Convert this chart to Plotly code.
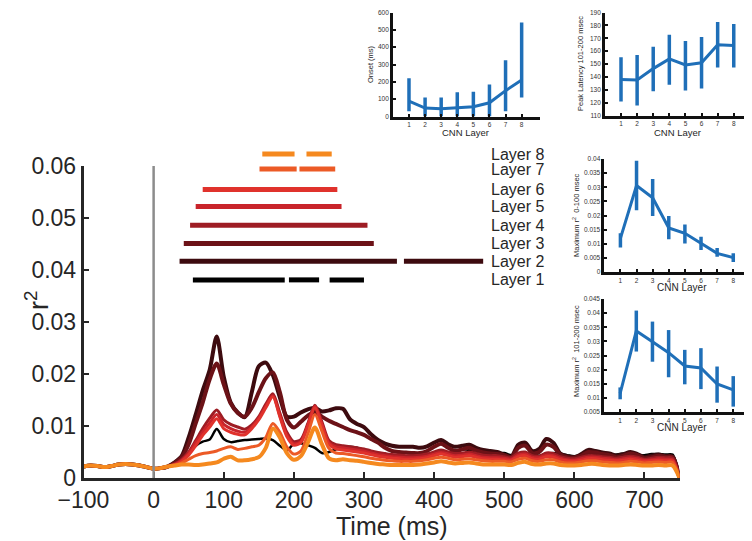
import plotly.graph_objects as go

# the page body has an 8px default margin: the figure is sized to fit the window
OFF = 8
FW, FH = 744, 533
FONT = "Liberation Sans, Arial, sans-serif"
INK = "#262626"
BLUE = "#1f6fb8"

# ---------------- main time series data ----------------
time_ms = [-100, -90, -80, -70, -60, -50, -40, -30, -20, -10, 0, 10, 20,
           30, 40, 50, 60, 70, 80, 90, 100, 110, 120, 130, 140, 150, 160, 170, 180, 190,
           200, 210, 220, 230, 240, 250, 260, 270, 280, 290, 300, 310, 320, 330, 340, 350,
           360, 370, 380, 390, 400, 410, 420, 430, 440, 450, 460, 470, 480, 490, 500, 510,
           520, 530, 540, 550, 560, 570, 580, 590, 600, 610, 620, 630, 640, 650, 660, 670,
           680, 690, 700, 710, 720, 730, 740, 750]

baseline = [0.0022, 0.0024, 0.0023, 0.0021, 0.0023, 0.0026, 0.0027, 0.0026, 0.0024,
            0.0021, 0.0018, 0.0019, 0.0022]

layer1 = baseline + [0.0027, 0.0036, 0.0048, 0.0062, 0.0070, 0.0074, 0.0094, 0.0075, 0.0069, 0.0071,
    0.0073, 0.0074, 0.0075, 0.0076, 0.0073, 0.0062, 0.0053, 0.0066, 0.0067, 0.0063, 0.0058,
    0.0048, 0.0050, 0.0055, 0.0058, 0.0060, 0.0058, 0.0054, 0.0051, 0.0048, 0.0046, 0.0044,
    0.0043, 0.0042, 0.0043, 0.0044, 0.0046, 0.0048, 0.0050, 0.0048, 0.0052, 0.0055, 0.0054,
    0.0050, 0.0048, 0.0046, 0.0047, 0.0048, 0.0044, 0.0046, 0.0048, 0.0045, 0.0043, 0.0046,
    0.0048, 0.0046, 0.0044, 0.0042, 0.0045, 0.0047, 0.0046, 0.0044, 0.0043, 0.0045, 0.0047,
    0.0045, 0.0043, 0.0044, 0.0046, 0.0046, 0.0045, 0.0045, 0.0]

layer2 = baseline + [0.0030, 0.0042, 0.0078, 0.0122, 0.0168, 0.0208, 0.0272, 0.0195, 0.0145, 0.0126,
    0.0117, 0.0165, 0.0215, 0.0222, 0.0198, 0.0155, 0.0118, 0.0118, 0.0126, 0.0132, 0.0135,
    0.0128, 0.0130, 0.0134, 0.0133, 0.0113, 0.0104, 0.0098, 0.0084, 0.0073, 0.0066, 0.0062,
    0.0060, 0.0060, 0.0060, 0.0058, 0.0061, 0.0068, 0.0073, 0.0065, 0.0060, 0.0062, 0.0064,
    0.0058, 0.0054, 0.0052, 0.0050, 0.0045, 0.0041, 0.0064, 0.0068, 0.0052, 0.0056, 0.0075,
    0.0068, 0.0047, 0.0042, 0.0040, 0.0046, 0.0054, 0.0052, 0.0049, 0.0047, 0.0043, 0.0046,
    0.0050, 0.0046, 0.0040, 0.0043, 0.0045, 0.0042, 0.0041, 0.0]

layer3 = baseline + [0.0029, 0.0040, 0.0065, 0.0105, 0.0145, 0.0190, 0.0220, 0.0180, 0.0143, 0.0125,
    0.0118, 0.0135, 0.0165, 0.0192, 0.0203, 0.0165, 0.0112, 0.0097, 0.0108, 0.0120, 0.0127,
    0.0118, 0.0110, 0.0104, 0.0098, 0.0092, 0.0088, 0.0083, 0.0075, 0.0068, 0.0058, 0.0052,
    0.0050, 0.0049, 0.0048, 0.0048, 0.0052, 0.0060, 0.0066, 0.0058, 0.0052, 0.0055, 0.0058,
    0.0053, 0.0049, 0.0047, 0.0046, 0.0044, 0.0040, 0.0058, 0.0062, 0.0048, 0.0050, 0.0064,
    0.0060, 0.0045, 0.0040, 0.0039, 0.0043, 0.0050, 0.0049, 0.0046, 0.0044, 0.0040, 0.0043,
    0.0047, 0.0044, 0.0038, 0.0040, 0.0043, 0.0041, 0.0040, 0.0]

layer4 = baseline + [0.0027, 0.0036, 0.0050, 0.0072, 0.0095, 0.0115, 0.0131, 0.0112, 0.0103, 0.0098,
    0.0094, 0.0102, 0.0118, 0.0142, 0.0162, 0.0125, 0.0088, 0.0070, 0.0074, 0.0105, 0.0140,
    0.0108, 0.0072, 0.0064, 0.0062, 0.0060, 0.0058, 0.0056, 0.0052, 0.0049, 0.0047, 0.0045,
    0.0044, 0.0043, 0.0043, 0.0044, 0.0046, 0.0050, 0.0054, 0.0050, 0.0047, 0.0048, 0.0050,
    0.0047, 0.0044, 0.0043, 0.0043, 0.0041, 0.0039, 0.0048, 0.0050, 0.0043, 0.0042, 0.0048,
    0.0047, 0.0041, 0.0038, 0.0037, 0.0040, 0.0043, 0.0043, 0.0041, 0.0040, 0.0038, 0.0040,
    0.0042, 0.0040, 0.0036, 0.0038, 0.0040, 0.0039, 0.0038, 0.0]

layer5 = baseline + [0.0026, 0.0034, 0.0047, 0.0068, 0.0088, 0.0106, 0.0122, 0.0103, 0.0095, 0.0090,
    0.0088, 0.0098, 0.0115, 0.0138, 0.0158, 0.0120, 0.0083, 0.0066, 0.0070, 0.0102, 0.0138,
    0.0104, 0.0068, 0.0060, 0.0058, 0.0056, 0.0054, 0.0052, 0.0048, 0.0045, 0.0043, 0.0041,
    0.0040, 0.0039, 0.0039, 0.0040, 0.0042, 0.0046, 0.0049, 0.0046, 0.0043, 0.0044, 0.0046,
    0.0043, 0.0040, 0.0039, 0.0039, 0.0038, 0.0036, 0.0044, 0.0046, 0.0040, 0.0039, 0.0044,
    0.0043, 0.0038, 0.0035, 0.0034, 0.0037, 0.0040, 0.0040, 0.0038, 0.0037, 0.0035, 0.0037,
    0.0039, 0.0037, 0.0034, 0.0035, 0.0037, 0.0036, 0.0035, 0.0]

layer6 = baseline + [0.0025, 0.0032, 0.0044, 0.0062, 0.0082, 0.0098, 0.0114, 0.0095, 0.0088, 0.0084,
    0.0083, 0.0095, 0.0112, 0.0135, 0.0156, 0.0118, 0.0080, 0.0063, 0.0068, 0.0100, 0.0135,
    0.0101, 0.0065, 0.0056, 0.0054, 0.0052, 0.0050, 0.0048, 0.0045, 0.0042, 0.0040, 0.0038,
    0.0037, 0.0036, 0.0036, 0.0037, 0.0039, 0.0043, 0.0046, 0.0043, 0.0040, 0.0041, 0.0043,
    0.0040, 0.0037, 0.0036, 0.0036, 0.0035, 0.0034, 0.0041, 0.0043, 0.0037, 0.0036, 0.0041,
    0.0040, 0.0035, 0.0033, 0.0032, 0.0034, 0.0037, 0.0037, 0.0035, 0.0034, 0.0033, 0.0034,
    0.0036, 0.0034, 0.0032, 0.0033, 0.0034, 0.0033, 0.0033, 0.0]

layer7 = baseline + [0.0024, 0.0029, 0.0036, 0.0043, 0.0047, 0.0049, 0.0052, 0.0057, 0.0060, 0.0055,
    0.0057, 0.0060, 0.0063, 0.0078, 0.0105, 0.0088, 0.0060, 0.0046, 0.0052, 0.0085, 0.0122,
    0.0090, 0.0057, 0.0048, 0.0047, 0.0045, 0.0043, 0.0041, 0.0038, 0.0036, 0.0034, 0.0033,
    0.0032, 0.0032, 0.0032, 0.0033, 0.0035, 0.0038, 0.0040, 0.0038, 0.0035, 0.0036, 0.0037,
    0.0035, 0.0033, 0.0032, 0.0032, 0.0032, 0.0031, 0.0036, 0.0038, 0.0033, 0.0032, 0.0035,
    0.0035, 0.0031, 0.0029, 0.0029, 0.0031, 0.0033, 0.0033, 0.0031, 0.0030, 0.0029, 0.0030,
    0.0032, 0.0031, 0.0029, 0.0030, 0.0031, 0.0030, 0.0030, 0.0]

layer8 = baseline + [0.0024, 0.0026, 0.0026, 0.0025, 0.0026, 0.0028, 0.0030, 0.0037, 0.0041, 0.0034,
    0.0034, 0.0036, 0.0040, 0.0058, 0.0095, 0.0078, 0.0048, 0.0035, 0.0042, 0.0068, 0.0097,
    0.0065, 0.0038, 0.0034, 0.0036, 0.0034, 0.0033, 0.0031, 0.0029, 0.0027, 0.0026, 0.0025,
    0.0025, 0.0025, 0.0025, 0.0026, 0.0028, 0.0030, 0.0032, 0.0030, 0.0028, 0.0029, 0.0030,
    0.0028, 0.0026, 0.0026, 0.0026, 0.0026, 0.0025, 0.0029, 0.0031, 0.0027, 0.0026, 0.0028,
    0.0028, 0.0025, 0.0024, 0.0024, 0.0025, 0.0027, 0.0027, 0.0025, 0.0024, 0.0024, 0.0025,
    0.0026, 0.0025, 0.0024, 0.0024, 0.0025, 0.0024, 0.0024, 0.0]

layer_names = ["Layer 1", "Layer 2", "Layer 3", "Layer 4", "Layer 5", "Layer 6", "Layer 7", "Layer 8"]
layer_series = [layer1, layer2, layer3, layer4, layer5, layer6, layer7, layer8]
layer_colors = ["#000000", "#3d0b0f", "#6c1217", "#9e1d24", "#c9242b", "#e0322c", "#ec5a26", "#f5891f"]
layer_widths = [2.5, 4, 4, 3, 3, 3, 3, 4]

# significance bars (start ms, end ms) per layer, and their heights on the r^2 scale
sig_segments = [
    [(56, 187), (193, 236), (251, 300)],
    [(37, 347), (357, 470)],
    [(43, 314)],
    [(52, 305)],
    [(60, 268)],
    [(70, 262)],
    [(151, 204), (208, 259)],
    [(155, 201), (218, 254)],
]
sig_levels = [0.0381, 0.0417, 0.0451, 0.0486, 0.0522, 0.0555, 0.0594, 0.0623]
label_x_ms = 479

# ---------------- inset data ----------------
cnn_layers = [1, 2, 3, 4, 5, 6, 7, 8]
onset_mean = [89, 49, 44, 52, 56, 79, 149, 210]
onset_hi = [220, 110, 110, 140, 143, 184, 324, 542]
onset_lo = [31, 0, 0, 0, 0, 0, 31, 110]

lat_mean = [138, 137.7, 146.5, 154, 149.3, 151, 165, 164.4]
lat_hi = [155.3, 157, 163.5, 172.8, 168, 171, 182.6, 181]
lat_lo = [121, 118, 129, 134, 129.5, 131, 147.4, 147.4]

max1_mean = [0.0119, 0.0306, 0.0263, 0.0156, 0.0137, 0.0101, 0.0066, 0.0051]
max1_hi = [0.0137, 0.0394, 0.0329, 0.0198, 0.0168, 0.0125, 0.0085, 0.0066]
max1_lo = [0.0087, 0.0219, 0.0198, 0.0116, 0.0101, 0.0078, 0.0054, 0.0035]

max2_mean = [0.0116, 0.0337, 0.0299, 0.0260, 0.0213, 0.0206, 0.0149, 0.0128]
max2_hi = [0.0137, 0.0409, 0.0370, 0.0340, 0.0270, 0.0276, 0.0211, 0.0177]
max2_lo = [0.0095, 0.0264, 0.0228, 0.0173, 0.0148, 0.0131, 0.0083, 0.0069]


def px(x):
    return (x - OFF) / FW


def py(y):
    return 1 - (y - OFF) / FH


fig = go.Figure()

# main curves
for name, ser, col, lw in zip(layer_names, layer_series, layer_colors, layer_widths):
    fig.add_trace(go.Scatter(x=time_ms, y=ser, mode="lines", name=name,
                             line=dict(color=col, width=lw, shape="spline", smoothing=0.8),
                             xaxis="x", yaxis="y", showlegend=False, hoverinfo="skip"))

# significance bars (on an extended hidden axis with the same scale)
for name, segs, lvl, col in zip(layer_names, sig_segments, sig_levels, layer_colors):
    xs, ys = [], []
    for a, b in segs:
        xs += [a, b, None]
        ys += [lvl, lvl, None]
    fig.add_trace(go.Scatter(x=xs, y=ys, mode="lines", line=dict(color=col, width=5),
                             xaxis="x", yaxis="y6", showlegend=False, hoverinfo="skip"))

annotations = []
for name, lvl in zip(layer_names, sig_levels):
    annotations.append(dict(x=label_x_ms, y=lvl, xref="x", yref="y6", text=name,
                            showarrow=False, xanchor="left", yanchor="middle",
                            font=dict(size=16, color=INK, family=FONT)))


def inset_trace(mean, hi, lo, xa, ya):
    return go.Scatter(x=cnn_layers, y=mean, mode="lines",
                      line=dict(color=BLUE, width=3),
                      error_y=dict(type="data", symmetric=False,
                                   array=[h - m for h, m in zip(hi, mean)],
                                   arrayminus=[m - l for m, l in zip(mean, lo)],
                                   color=BLUE, thickness=3.5, width=0),
                      xaxis=xa, yaxis=ya, showlegend=False, hoverinfo="skip")


fig.add_trace(inset_trace(onset_mean, onset_hi, onset_lo, "x2", "y2"))
fig.add_trace(inset_trace(lat_mean, lat_hi, lat_lo, "x3", "y3"))
fig.add_trace(inset_trace(max1_mean, max1_hi, max1_lo, "x4", "y4"))
fig.add_trace(inset_trace(max2_mean, max2_hi, max2_lo, "x5", "y5"))

main_ax = dict(showline=True, linecolor=INK, linewidth=2.5, ticks="inside", ticklen=6,
               tickwidth=2, tickcolor=INK, showgrid=False, zeroline=False, automargin=False,
               tickfont=dict(size=23, color=INK, family=FONT))
ins_ax = dict(showline=True, linecolor="#111111", linewidth=2.5, ticks="inside", ticklen=3,
              tickwidth=2, tickcolor="#111111", showgrid=False, zeroline=False, automargin=False,
              ticklabeloverflow="allow",
              tickfont=dict(size=6.5, color="#333333", family=FONT))

yt_main = [0, 0.01, 0.02, 0.03, 0.04, 0.05, 0.06]
yt_main_txt = ["0", "0.01", "0.02", "0.03", "0.04", "0.05", "0.06"]
yt4 = [0, 0.005, 0.01, 0.015, 0.02, 0.025, 0.03, 0.035, 0.04]
yt4_txt = ["0", "0.005", "0.01", "0.015", "0.02", "0.025", "0.03", "0.035", "0.04"]
yt5 = [0.005, 0.01, 0.015, 0.02, 0.025, 0.03, 0.035, 0.04, 0.045]
yt5_txt = ["0.005", "0.01", "0.015", "0.02", "0.025", "0.03", "0.035", "0.04", "0.045"]

fig.update_layout(
    width=FW, height=FH, margin=dict(l=0, r=0, t=0, b=0, autoexpand=False),
    paper_bgcolor="white", plot_bgcolor="rgba(0,0,0,0)",
    font=dict(family=FONT, color=INK),
    xaxis=dict(main_ax, domain=[px(83.5), px(679.5)], range=[-100, 750], anchor="y",
               tickvals=[-100, 0, 100, 200, 300, 400, 500, 600, 700]),
    yaxis=dict(main_ax, domain=[py(478), py(166)], range=[0, 0.06], anchor="x",
               tickvals=yt_main, ticktext=yt_main_txt),
    yaxis6=dict(domain=[py(478), py(140)], range=[0, 0.065], anchor="x", visible=False,
                automargin=False),
    xaxis2=dict(ins_ax, domain=[px(392.9), px(540)], range=[0, 9.14], anchor="y2",
                tickvals=cnn_layers),
    yaxis2=dict(ins_ax, domain=[py(116.5), py(12.5)], range=[0, 600], anchor="x2",
                tickvals=[0, 100, 200, 300, 400, 500, 600]),
    xaxis3=dict(ins_ax, domain=[px(604.9), px(751)], range=[0, 9.07], anchor="y3",
                tickvals=cnn_layers),
    yaxis3=dict(ins_ax, domain=[py(115.7), py(12.5)], range=[110, 190], anchor="x3",
                tickvals=[110, 120, 130, 140, 150, 160, 170, 180, 190]),
    xaxis4=dict(ins_ax, domain=[px(604.3), px(751)], range=[0, 9.1], anchor="y4",
                tickvals=cnn_layers),
    yaxis4=dict(ins_ax, domain=[py(272), py(159)], range=[0, 0.04], anchor="x4",
                tickvals=yt4, ticktext=yt4_txt),
    xaxis5=dict(ins_ax, domain=[px(604), px(751)], range=[0, 9.1], anchor="y5",
                tickvals=cnn_layers),
    yaxis5=dict(ins_ax, domain=[py(412), py(299)], range=[0.005, 0.045], anchor="x5",
                tickvals=yt5, ticktext=yt5_txt),
    shapes=[dict(type="line", xref="x", yref="y", x0=0, x1=0, y0=0, y1=0.06,
                 line=dict(color="#8c8c8c", width=2.5), layer="above")],
)


def ann(x, y, text, size, angle=0):
    return dict(x=px(x), y=py(y), xref="paper", yref="paper", text=text, showarrow=False,
                xanchor="center", yanchor="middle", textangle=angle,
                font=dict(size=size, color=INK, family=FONT))


annotations += [
    ann(391.5, 526, "Time (ms)", 25),
    ann(37, 300, "r<sup>2</sup>", 27, -90),
    ann(465, 132, "CNN Layer", 9.5),
    ann(677, 132, "CNN Layer", 9.5),
    ann(681.5, 287.5, "CNN Layer", 10),
    ann(681.7, 427.5, "CNN Layer", 10),
    ann(371, 64, "Onset (ms)", 7.5, -90),
    ann(581, 64, "Peak Latency 101-200 msec", 7.5, -90),
    ann(576, 215, "Maximum r<sup>2</sup>  0-100 msec", 7.5, -90),
    ann(576, 351, "Maximum r<sup>2</sup>  101-200 msec", 7.5, -90),
]
fig.update_layout(annotations=annotations)

fig.write_html("out.html")
